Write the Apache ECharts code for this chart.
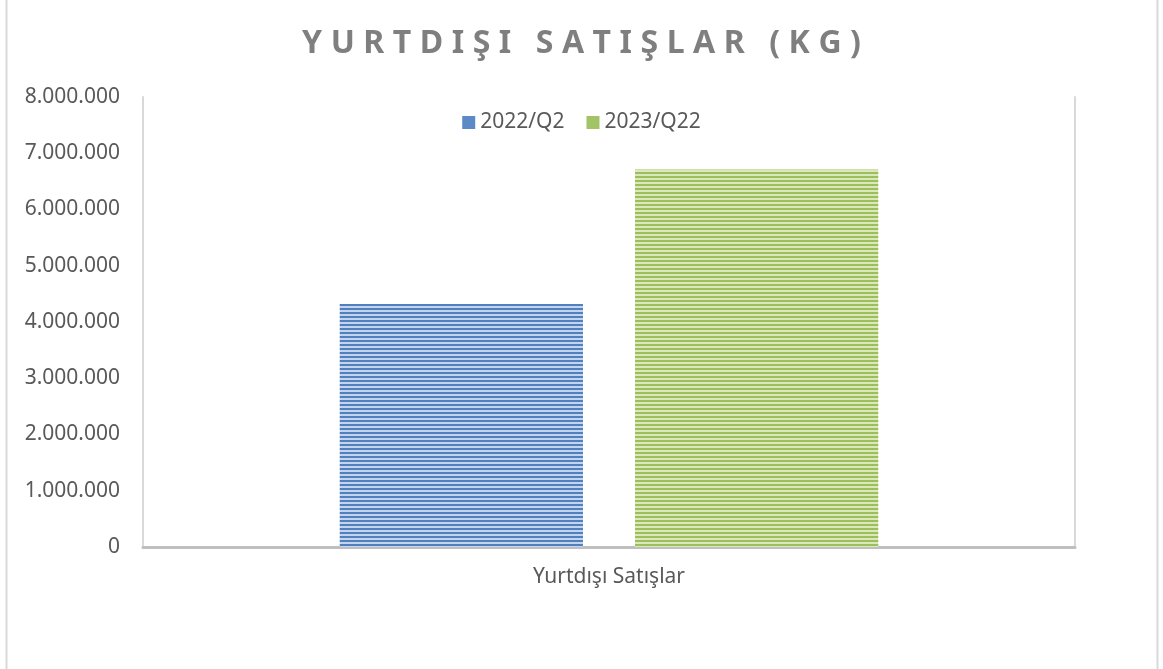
<!DOCTYPE html>
<html><head><meta charset="utf-8">
<script src="https://cdn.jsdelivr.net/npm/echarts@6/dist/echarts.min.js"></script>
<style>html,body{margin:0;padding:0;background:#fff}#c{width:1163px;height:669px}</style>
</head><body><div id="c"></div>
<script>
const categories = ['Yurtdışı Satışlar'];
const seriesNames = ['2022/Q2', '2023/Q22'];
const values2022 = [4320000];
const values2023 = [6710000];
const yTicks = { min: 0, max: 8000000, interval: 1000000 };
const titleText = 'YURTDIŞI SATIŞLAR (KG)';

function stripe(dark, light) {
  const cv = document.createElement('canvas');
  cv.width = 4; cv.height = 4;
  const g = cv.getContext('2d');
  g.fillStyle = light; g.fillRect(0, 0, 4, 4);
  g.fillStyle = dark; g.fillRect(0, 0, 4, 2);
  return { image: cv, repeat: 'repeat' };
}
const blue = stripe('#5080bf', '#c3d4eb');
const green = stripe('#9dbf5a', '#d9e8bd');

function spaced(s) {
  return s.split(' ').map(w => w.split('').join('\u2009\u200A')).join('\u2009\u200A\u2002');
}
const fmt = v => String(v).replace(/\B(?=(\d{3})+(?!\d))/g, '.');
const font = 'Noto Sans';
const chart = echarts.init(document.getElementById('c'));
chart.setOption({
  animation: false,
  title: {
    text: spaced(titleText),
    left: 'center', top: 23,
    textStyle: { fontFamily: font, fontSize: 32, fontWeight: 'bold', color: '#7f7f7f' }
  },
  legend: {
    top: 107, left: 'center', itemWidth: 13, itemHeight: 13, itemGap: 22,
    textStyle: { fontFamily: font, fontSize: 21, color: '#595959' },
    data: [
      { name: seriesNames[0], icon: 'rect', itemStyle: { color: '#5b8ac6' } },
      { name: seriesNames[1], icon: 'rect', itemStyle: { color: '#a3c466' } }
    ]
  },
  grid: { left: 143, right: 88, top: 97, bottom: 122 },
  xAxis: {
    type: 'category', data: categories,
    axisLine: { lineStyle: { color: '#bfbfbf', width: 3 } },
    axisTick: { show: false },
    axisLabel: { fontFamily: font, fontSize: 21, color: '#595959', margin: 20 }
  },
  yAxis: [{
    type: 'value', min: yTicks.min, max: yTicks.max, interval: yTicks.interval,
    axisLine: { show: true, lineStyle: { color: '#d9d9d9', width: 2 } },
    axisTick: { show: false },
    splitLine: { show: false },
    axisLabel: { fontFamily: font, fontSize: 21, color: '#595959', margin: 23, formatter: fmt }
  }, {
    type: 'value', position: 'right', min: yTicks.min, max: yTicks.max, interval: yTicks.interval,
    axisLine: { show: true, lineStyle: { color: '#d9d9d9', width: 2 } },
    axisTick: { show: false }, splitLine: { show: false }, axisLabel: { show: false }
  }],
  series: [
    { name: seriesNames[0], type: 'bar', data: values2022, barWidth: '26.1%', barGap: '21.4%', itemStyle: { color: blue } },
    { name: seriesNames[1], type: 'bar', data: values2023, barWidth: '26.1%', barGap: '21.4%', itemStyle: { color: green } }
  ],
  graphic: [
    { type: 'line', shape: { x1: 6.5, y1: 0, x2: 6.5, y2: 669 }, style: { stroke: '#d9d9d9', lineWidth: 2 } },
    { type: 'line', shape: { x1: 1157.5, y1: 0, x2: 1157.5, y2: 669 }, style: { stroke: '#d9d9d9', lineWidth: 2 } }
  ]
});
</script></body></html>
